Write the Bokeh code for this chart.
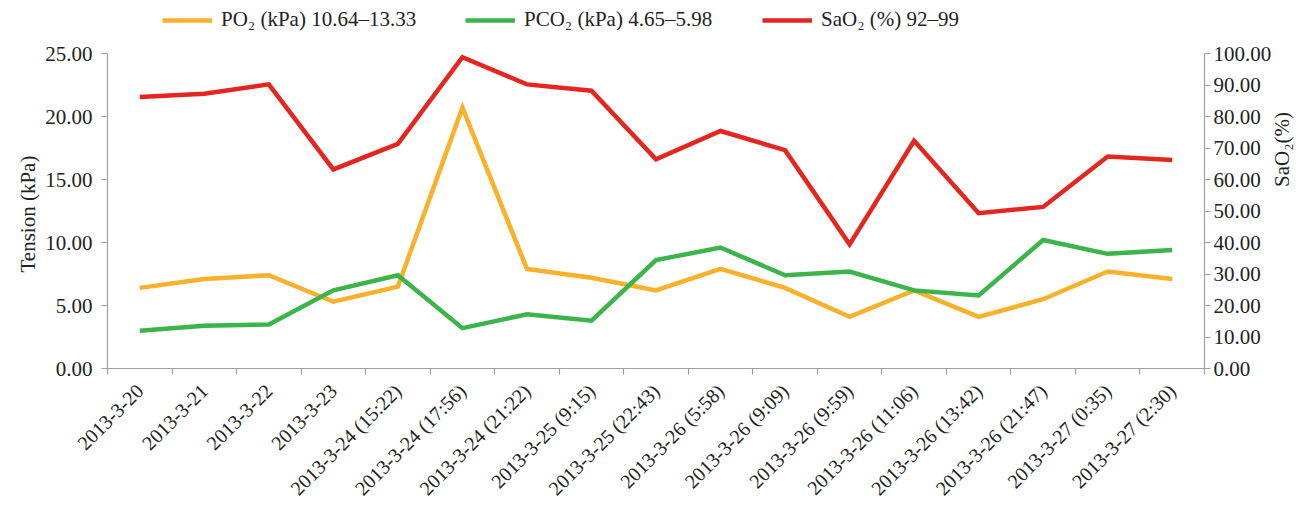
from math import pi

from bokeh.embed import file_html
from bokeh.models import (ColumnDataSource, FixedTicker, Legend, LegendItem,
                          LinearAxis, NumeralTickFormatter, Range1d, Title)
from bokeh.plotting import figure
from bokeh.resources import INLINE

# Sampling times (one category per blood-gas sample)
categories = [
    "2013-3-20", "2013-3-21", "2013-3-22", "2013-3-23",
    "2013-3-24 (15:22)", "2013-3-24 (17:56)", "2013-3-24 (21:22)",
    "2013-3-25 (9:15)", "2013-3-25 (22:43)", "2013-3-26 (5:58)",
    "2013-3-26 (9:09)", "2013-3-26 (9:59)", "2013-3-26 (11:06)",
    "2013-3-26 (13:42)", "2013-3-26 (21:47)", "2013-3-27 (0:35)",
    "2013-3-27 (2:30)",
]

# Arterial blood gas values
po2_kpa = [6.4, 7.1, 7.4, 5.3, 6.5, 20.7, 7.9, 7.2, 6.2, 7.9, 6.4, 4.1, 6.2, 4.1, 5.5, 7.7, 7.1]
pco2_kpa = [3.0, 3.4, 3.5, 6.2, 7.4, 3.2, 4.3, 3.8, 8.6, 9.6, 7.4, 7.7, 6.2, 5.8, 10.2, 9.1, 9.4]
sao2_pct = [86.2, 87.2, 90.2, 63.2, 71.3, 98.8, 90.2, 88.2, 66.4, 75.4, 69.3, 39.4, 72.3, 49.3, 51.3, 67.3, 66.2]

# Series labels
po2_label = "PO\u2082 (kPa) 10.64\u201313.33"
pco2_label = "PCO\u2082 (kPa) 4.65\u20135.98"
sao2_label = "SaO\u2082 (%) 92\u201399"

# Axis ticks and titles
left_ticks = [0, 5, 10, 15, 20, 25]
right_ticks = [0, 10, 20, 30, 40, 50, 60, 70, 80, 90, 100]
left_max = 25
right_max = 100
left_title = "Tension (kPa)"
right_title = "SaO\u2082(%)"

FONT = "Liberation Serif"
FS = "21px"
TEXT = "#222222"
AXIS = "#a0a0a0"
ORANGE = "#F9B02A"
GREEN = "#3BB44A"
RED = "#E5251F"
LW = 4.5

# Frame geometry: the plot area runs up to the top of the canvas so the legend
# row can live inside it; the axes themselves stop at their last tick.
FRAME_TOP, AXIS_TOP, AXIS_BOTTOM = 5, 53, 368
stretch = (AXIS_BOTTOM - FRAME_TOP) / (AXIS_BOTTOM - AXIS_TOP)
# the left title starts this far above the bottom of the axis (reads upward)
left_title_lift = 96

n = len(categories)
xpos = [i + 0.5 for i in range(n)]  # each point sits in the middle of its category slot

src = ColumnDataSource(dict(x=xpos, po2=po2_kpa, pco2=pco2_kpa, sao2=sao2_pct))

p = figure(
    width=1309, height=510,
    x_range=Range1d(0, n), y_range=Range1d(0, left_max * stretch),
    output_backend="svg", toolbar_location=None,
    min_border_left=107, min_border_right=104,
    min_border_top=FRAME_TOP, min_border_bottom=510 - AXIS_BOTTOM,
    x_axis_location=None, y_axis_location=None,
)
p.outline_line_color = None
p.grid.visible = False
p.background_fill_color = "white"
p.border_fill_color = "white"

p.extra_y_ranges = {"sat": Range1d(0, right_max * stretch)}


def style_axis(ax):
    ax.axis_line_color = AXIS
    ax.axis_line_width = 1.2
    ax.major_tick_line_color = AXIS
    ax.major_tick_line_width = 1.2
    ax.minor_tick_line_color = None
    ax.major_label_text_font = FONT
    ax.major_label_text_font_size = FS
    ax.major_label_text_color = TEXT
    ax.axis_label_text_font = FONT
    ax.axis_label_text_font_size = FS
    ax.axis_label_text_font_style = "normal"
    ax.axis_label_text_color = TEXT


# Bottom axis: labels centred on each slot, tick marks on slot boundaries
xaxis = LinearAxis(
    ticker=FixedTicker(ticks=xpos, minor_ticks=list(range(n + 1))),
    major_label_overrides={x: c for x, c in zip(xpos, categories)},
)
style_axis(xaxis)
xaxis.major_label_text_font_size = "20px"
xaxis.major_tick_line_color = None
xaxis.major_tick_out = 0
xaxis.major_tick_in = 0
xaxis.minor_tick_line_color = AXIS
xaxis.minor_tick_line_width = 1.2
xaxis.minor_tick_out = 6
xaxis.minor_tick_in = 0
xaxis.major_label_orientation = pi / 4
xaxis.major_label_standoff = 13
p.add_layout(xaxis, "below")

yleft = LinearAxis(
    ticker=FixedTicker(ticks=left_ticks),
    formatter=NumeralTickFormatter(format="0.00"),
    bounds=(0, left_max),
)
style_axis(yleft)
yleft.major_tick_out = 6
yleft.major_tick_in = 0
yleft.major_label_standoff = 9
p.add_layout(yleft, "left")

# left axis title, placed along the drawn part of the axis
p.add_layout(
    Title(text=left_title, align="left", offset=left_title_lift, standoff=6,
          text_font=FONT, text_font_size=FS, text_font_style="normal",
          text_color=TEXT),
    "left",
)

yright = LinearAxis(
    y_range_name="sat",
    ticker=FixedTicker(ticks=right_ticks),
    formatter=NumeralTickFormatter(format="0.00"),
    axis_label=right_title,
    bounds=(0, right_max),
)
style_axis(yright)
yright.major_tick_out = 6
yright.major_tick_in = 0
yright.major_label_standoff = 3
yright.axis_label_standoff = 8
yright.axis_label_orientation = pi / 2  # reads bottom-to-top
p.add_layout(yright, "right")

r_po2 = p.line("x", "po2", source=src, line_color=ORANGE, line_width=LW, line_join="miter")
r_pco2 = p.line("x", "pco2", source=src, line_color=GREEN, line_width=LW, line_join="miter")
r_sao2 = p.line("x", "sao2", source=src, y_range_name="sat", line_color=RED,
                line_width=LW, line_join="miter")

# One legend per series, laid out in a row above the axes
legend_y = AXIS_BOTTOM - 22 - 10
for label, renderer, x0 in [(po2_label, r_po2, 55), (pco2_label, r_pco2, 358), (sao2_label, r_sao2, 655)]:
    lg = Legend(
        items=[LegendItem(label=label, renderers=[renderer])],
        location=(x0, legend_y),
        orientation="horizontal",
        glyph_width=50, glyph_height=20, label_height=20,
        label_standoff=9, padding=0, margin=0, spacing=0,
        border_line_color=None, background_fill_alpha=0,
        label_text_font=FONT, label_text_font_size=FS, label_text_color=TEXT,
    )
    p.add_layout(lg, "center")

open("out.html", "w").write(file_html(p, INLINE))
